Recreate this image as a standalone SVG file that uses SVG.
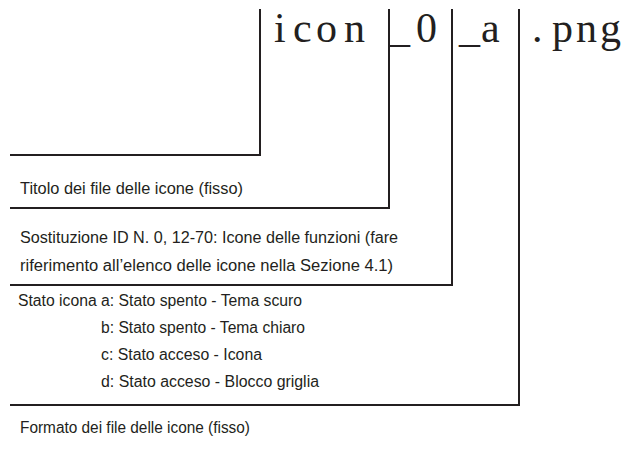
<svg xmlns="http://www.w3.org/2000/svg" width="635" height="452" viewBox="0 0 635 452">
<style>
.fn{font-family:"Liberation Serif","Times New Roman",serif;font-size:42px;fill:#231f20}
.lb{font-family:"Liberation Sans",Arial,sans-serif;font-size:16px;fill:#231f20}
.ln{fill:none;stroke:#231f20;stroke-width:2;stroke-linecap:square}
</style>
<rect width="635" height="452" fill="#ffffff"/>
<g id="filename">
<text class="fn" x="274 293 316 344" y="42">icon</text>
<text class="fn" x="389 416" y="42">_0</text>
<text class="fn" x="459 481" y="42">_a</text>
<text class="fn" x="532 552 576 600" y="42">.png</text>
</g>
<g id="connectors">
<polyline class="ln" points="260,10 260,155 11,155"/>
<polyline class="ln" points="389,10 389,208 11,208"/>
<polyline class="ln" points="452,10 452,285 11,285"/>
<polyline class="ln" points="519,10 519,405 11,405"/>
</g>
<g id="label-title">
<text class="lb" x="20" y="194" textLength="223" lengthAdjust="spacingAndGlyphs">Titolo dei file  delle icone (fisso)</text>
</g>
<g id="label-id">
<text class="lb" x="20" y="243" textLength="378" lengthAdjust="spacingAndGlyphs">Sostituzione ID N. 0, 12-70: Icone delle funzioni (fare</text>
<text class="lb" x="20" y="271" textLength="373" lengthAdjust="spacingAndGlyphs">riferimento all’elenco delle icone nella Sezione 4.1)</text>
</g>
<g id="label-state">
<text class="lb" x="18" y="306" textLength="284" lengthAdjust="spacingAndGlyphs">Stato icona a: Stato spento - Tema scuro</text>
<text class="lb" x="101" y="333" textLength="204" lengthAdjust="spacingAndGlyphs">b: Stato spento - Tema chiaro</text>
<text class="lb" x="101" y="360" textLength="161" lengthAdjust="spacingAndGlyphs">c: Stato acceso - Icona</text>
<text class="lb" x="101" y="387" textLength="218" lengthAdjust="spacingAndGlyphs">d: Stato acceso - Blocco griglia</text>
</g>
<g id="label-format">
<text class="lb" x="20" y="433" textLength="230" lengthAdjust="spacingAndGlyphs">Formato dei file delle icone (fisso)</text>
</g>
</svg>
